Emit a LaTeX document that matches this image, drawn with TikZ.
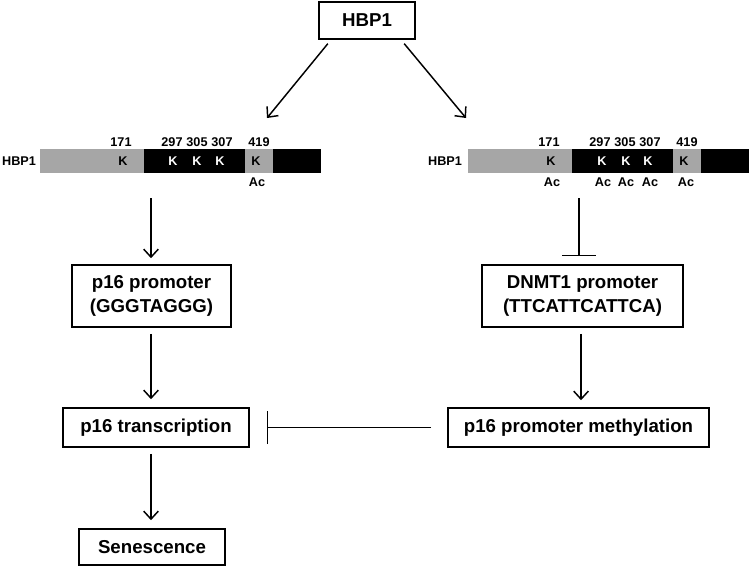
\documentclass[tikz,border=0pt]{standalone}
\usepackage{fontspec}
\setmainfont{Liberation Sans}
\usetikzlibrary{arrows.meta,calc}
\definecolor{bargray}{RGB}{166,166,166}
\begin{document}
\begin{tikzpicture}[x=0.75pt,y=-0.75pt,
  box/.style={draw, line width=1.2pt, align=center, inner sep=0pt,
    font=\bfseries\fontsize{14}{17.5}\selectfont},
  arr/.style={line width=1.1pt, -{Straight Barb[length=6pt,width=11pt,line width=1.1pt]}},
  inh/.style={line width=1.1pt, -{Bar[width=25pt,line width=1.1pt]}},
  small/.style={inner sep=0pt, font=\bfseries\fontsize{9.5}{11}\selectfont},
  wsmall/.style={small, text=white},
  gseg/.style={fill=bargray, draw=none},
  bseg/.style={fill=black, draw=none}]
\useasboundingbox (0,0) rectangle (750,569);

% boxes
\node[box, minimum width=72pt, minimum height=27.75pt] (hbp) at (367,20.5) {HBP1};
\node[box, minimum width=119.25pt, minimum height=46.5pt] (p16p) at (151.5,296) {p16 promoter\\(GGGTAGGG)};
\node[box, minimum width=150.75pt, minimum height=46.5pt] (dnmt) at (582.5,296) {DNMT1 promoter\\(TTCATTCATTCA)};
\node[box, minimum width=139.5pt, minimum height=29.25pt] (trans) at (156,427.5) {p16 transcription};
\node[box, minimum width=195.75pt, minimum height=29.25pt] (meth) at (578.5,427.5) {p16 promoter methylation};
\node[box, minimum width=109.5pt, minimum height=27pt] (sen) at (152,547) {Senescence};

% left protein bar
\begin{scope}
  \fill[gseg] (40,149) rectangle (144,173);
  \fill[bseg] (144,149) rectangle (245,173);
  \fill[gseg] (245,149) rectangle (273,173);
  \fill[bseg] (273,149) rectangle (321,173);
  \node[small] (lname) at (19,161) {HBP1};
  \node[small] (ln1) at (121,142) {171};
  \node[small] (ln2) at (172,142) {297};
  \node[small] (ln3) at (197,142) {305};
  \node[small] (ln4) at (222,142) {307};
  \node[small] (ln5) at (259,142) {419};
  \node[small] (lk1) at (123,161) {K};
  \node[wsmall] (lk2) at (173,161) {K};
  \node[wsmall] (lk3) at (197,161) {K};
  \node[wsmall] (lk4) at (220,161) {K};
  \node[small] (lk5) at (256,161) {K};
  \node[small] (la5) at (257,182) {Ac};
\end{scope}

% right protein bar
\begin{scope}[shift={(428,0)}]
  \fill[gseg] (40,149) rectangle (144,173);
  \fill[bseg] (144,149) rectangle (245,173);
  \fill[gseg] (245,149) rectangle (273,173);
  \fill[bseg] (273,149) rectangle (321,173);
  \node[small] (rname) at (17,161) {HBP1};
  \node[small] (rn1) at (121,142) {171};
  \node[small] (rn2) at (172,142) {297};
  \node[small] (rn3) at (197,142) {305};
  \node[small] (rn4) at (222,142) {307};
  \node[small] (rn5) at (259,142) {419};
  \node[small] (rk1) at (123,161) {K};
  \node[wsmall] (rk2) at (174,161) {K};
  \node[wsmall] (rk3) at (198,161) {K};
  \node[wsmall] (rk4) at (220,161) {K};
  \node[small] (rk5) at (256,161) {K};
  \node[small] (ra1) at (124,182) {Ac};
  \node[small] (ra2) at (175,182) {Ac};
  \node[small] (ra3) at (198,182) {Ac};
  \node[small] (ra4) at (222,182) {Ac};
  \node[small] (ra5) at (258,182) {Ac};
\end{scope}

% connector coordinates
\coordinate (lt) at (267,118);
\coordinate (rt) at (466,118);
\coordinate (ls) at (151,198);
\coordinate (rs) at (579,198);

% connectors
\draw[arr, shorten <=3.75pt] ([xshift=-27pt]hbp.south) -- (lt);
\draw[arr, shorten <=3.75pt] ([xshift=25.5pt]hbp.south) -- (rt);
\draw[arr, shorten >=4.5pt] (ls) -- (ls |- p16p.north);
\draw[inh, shorten >=6pt] (rs) -- (rs |- dnmt.north);
\draw[arr, shorten <=4.5pt, shorten >=6pt] (p16p.south -| ls) -- (trans.north -| ls);
\draw[arr, shorten <=4.5pt, shorten >=5.25pt] ([xshift=-1.1pt]dnmt.south) -- ([xshift=-1.1pt]dnmt.south |- meth.north);
\draw[inh, shorten <=12pt, shorten >=12.75pt] (meth.west) -- (trans.east);
\draw[arr, shorten <=4.5pt, shorten >=6pt] (trans.south -| ls) -- (sen.north -| ls);
\end{tikzpicture}
\end{document}
